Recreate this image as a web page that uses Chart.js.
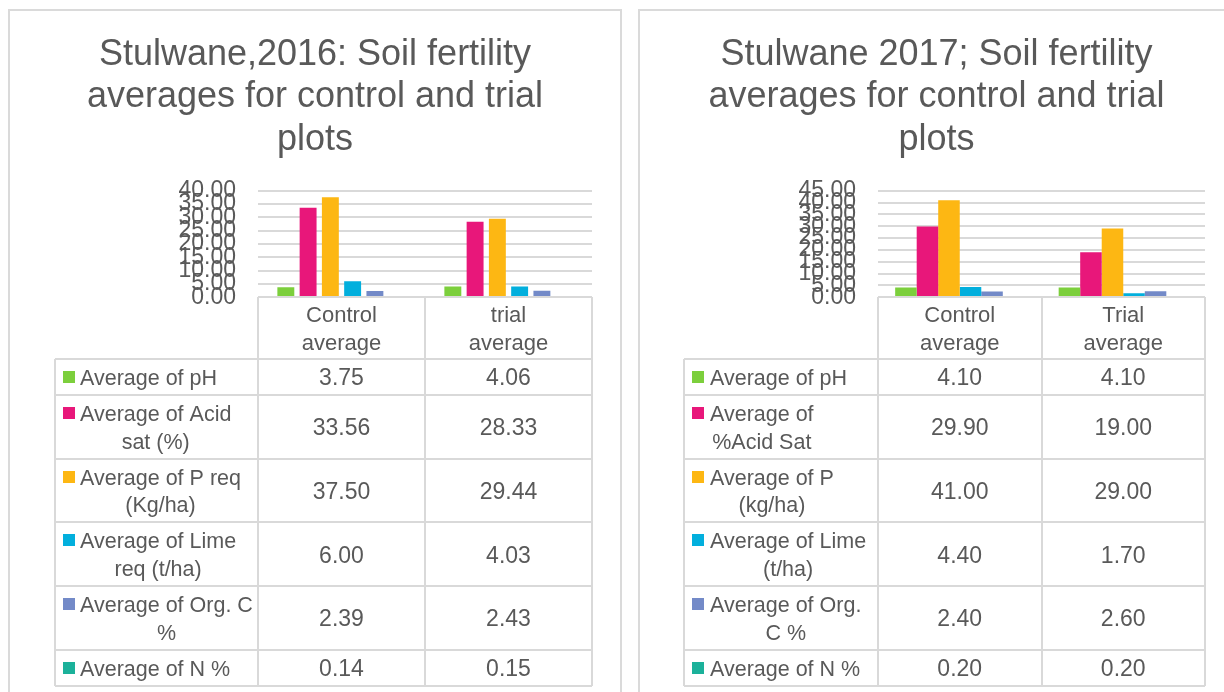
<!DOCTYPE html>
<html>
<head>
<meta charset="utf-8">
<script src="https://cdn.jsdelivr.net/npm/chart.js@4.4.1/dist/chart.umd.min.js"></script>
<style>
  html, body { margin: 0; padding: 0; background: #ffffff; overflow: hidden; width: 1224px; height: 692px; }
  .panel { position: absolute; box-sizing: border-box; border: 2px solid #DADADA; background: #fff; }
  canvas { position: absolute; }
</style>
</head>
<body>
<div class="panel" style="left:8px; top:9px; width:614px; height:720px;"></div>
<div class="panel" style="left:638px; top:9px; width:620px; height:720px;"></div>
<canvas id="c2016" width="612" height="682" style="left:9px; top:10px; width:612px; height:682px;"></canvas>
<canvas id="c2017" width="594" height="682" style="left:639px; top:10px; width:594px; height:682px;"></canvas>
<script>
// ---------- data ----------
const title2016 = ['Stulwane,2016: Soil fertility', 'averages for control and trial', 'plots'];
const title2017 = ['Stulwane 2017; Soil fertility', 'averages for control and trial', 'plots'];

const categories2016 = ['Control average', 'trial average'];
const categories2017 = ['Control average', 'Trial average'];

const series2016 = ['Average of pH', 'Average of Acid\nsat (%)', 'Average of P req\n(Kg/ha)', 'Average of Lime\nreq (t/ha)', 'Average of Org. C\n%', 'Average of N %'];
const series2017 = ['Average of pH', 'Average of\n%Acid Sat', 'Average of P\n(kg/ha)', 'Average of Lime\n(t/ha)', 'Average of Org.\nC %', 'Average of N %'];

const control2016 = [3.75, 33.56, 37.50, 6.00, 2.39, 0.14];
const trial2016   = [4.06, 28.33, 29.44, 4.03, 2.43, 0.15];
const control2017 = [4.10, 29.90, 41.00, 4.40, 2.40, 0.20];
const trial2017   = [4.10, 19.00, 29.00, 1.70, 2.60, 0.20];

const yMax2016 = 40;
const yMax2017 = 45;
const yStep = 5;

const seriesColors = ['#7CCF3C', '#E8177A', '#FDB713', '#02AFDD', '#738AC8', '#1BB19A'];

// ---------- style ----------
const FONT = "'Liberation Sans', Arial, sans-serif";
const TEXT = '#595959';
const LINE = '#D9D9D9';

Chart.defaults.font.family = FONT;
Chart.defaults.color = TEXT;

const tablePlugin = {
  id: 'dataTable',
  afterDraw(chart, args, opts) {
    const { ctx, chartArea: ca } = chart;
    const x = chart.scales.x;
    const labels = chart.data.labels;
    const n = labels.length;
    const p0 = x.getPixelForValue(0), p1 = x.getPixelForValue(1);
    const cw = p1 - p0;
    const colEdges = [];
    for (let i = 0; i <= n; i++) colEdges.push(Math.round(p0 - cw / 2 + i * cw));
    const top = Math.round(ca.bottom);
    const headerBottom = Math.round(ca.bottom + opts.headerHeight);
    const tableLeft = Math.round(colEdges[0] - opts.keyColWidth);
    const right = colEdges[n];
    const dy = opts.textShift;

    const rows = [];
    let y = headerBottom;
    chart.data.datasets.forEach(ds => {
      const lines = ds.label.split('\n');
      const h = opts.rowBase + opts.lineH * lines.length;
      rows.push({ top: y, bottom: y + h, lines, ds });
      y += h;
    });
    const tableBottom = Math.round(y);

    ctx.save();
    ctx.fillStyle = TEXT;
    ctx.textBaseline = 'middle';
    ctx.textAlign = 'center';
    ctx.font = opts.headerFont + 'px ' + FONT;
    const hc = (top + headerBottom) / 2 + dy;
    labels.forEach((lab, i) => {
      const parts = lab.split(' ');
      const cx = x.getPixelForValue(i);
      parts.forEach((pt, j) => {
        ctx.fillText(pt, cx, hc + (j - (parts.length - 1) / 2) * opts.lineH);
      });
    });

    rows.forEach(r => {
      const rc = (r.top + r.bottom) / 2;
      const firstY = rc - (r.lines.length - 1) / 2 * opts.lineH;
      ctx.fillStyle = r.ds.backgroundColor;
      ctx.fillRect(tableLeft + opts.keyOffset, Math.round(firstY - 6), 12, 12);
      ctx.fillStyle = TEXT;
      ctx.font = opts.labelFont + 'px ' + FONT;
      const blockW = Math.max(...r.lines.map(l => ctx.measureText(l).width));
      const bc = tableLeft + opts.textOffset + blockW / 2;
      ctx.textAlign = 'center';
      r.lines.forEach((l, j) => {
        ctx.fillText(l, bc, rc + dy + (j - (r.lines.length - 1) / 2) * opts.lineH);
      });
      ctx.font = opts.valueFont + 'px ' + FONT;
      r.ds.data.forEach((v, i) => {
        ctx.fillText(v.toFixed(2), x.getPixelForValue(i), rc + dy);
      });
    });

    ctx.strokeStyle = LINE;
    ctx.lineWidth = 2;
    ctx.beginPath();
    ctx.moveTo(colEdges[0], top); ctx.lineTo(right, top);
    colEdges.forEach(cx => { ctx.moveTo(cx, top); ctx.lineTo(cx, tableBottom); });
    ctx.moveTo(tableLeft, headerBottom); ctx.lineTo(tableLeft, tableBottom);
    ctx.moveTo(tableLeft, headerBottom); ctx.lineTo(right, headerBottom);
    rows.forEach(r => {
      const yy = Math.round(r.bottom);
      ctx.moveTo(tableLeft, yy); ctx.lineTo(right, yy);
    });
    ctx.stroke();
    ctx.restore();
  }
};

function makeChart(id, title, cats, names, control, trial, yMax, bar, geo) {
  const datasets = names.map((nm, i) => ({
    label: nm,
    data: [control[i], trial[i]],
    backgroundColor: seriesColors[i],
    borderWidth: 0,
    categoryPercentage: bar.cat,
    barPercentage: bar.bar
  }));
  return new Chart(document.getElementById(id), {
    type: 'bar',
    data: { labels: cats, datasets },
    options: {
      responsive: false,
      animation: false,
      layout: { padding: { top: 0, left: geo.padLeft, right: geo.padRight, bottom: geo.padBottom } },
      plugins: {
        legend: { display: false },
        tooltip: { enabled: false },
        title: {
          display: true,
          text: title,
          color: TEXT,
          font: { family: FONT, size: 36, weight: 'normal', lineHeight: 1.1806 },
          padding: { top: 23.7, bottom: 29.5 }
        },
        dataTable: geo.table
      },
      scales: {
        x: { display: false },
        y: {
          min: 0, max: yMax,
          afterFit: s => { s.width = geo.yWidth; },
          ticks: {
            stepSize: yStep,
            autoSkip: false,
            padding: 22,
            color: TEXT,
            font: { size: 23 },
            callback: v => Number(v).toFixed(2)
          },
          grid: { color: LINE, lineWidth: 2, drawTicks: false },
          border: { display: false }
        }
      }
    },
    plugins: [tablePlugin]
  });
}

makeChart('c2016', title2016, categories2016, series2016, control2016, trial2016, yMax2016,
  { cat: 0.8, bar: 0.76 },
  { padLeft: 29, padRight: 29, padBottom: 394.7, yWidth: 220,
    table: { headerHeight: 61.7, keyColWidth: 203, keyOffset: 8, textOffset: 25, rowBase: 8.3, lineH: 27.7, headerFont: 22, labelFont: 21.5, valueFont: 23, textShift: 2 } });

makeChart('c2017', title2017, categories2017, series2017, control2017, trial2017, yMax2017,
  { cat: 0.79, bar: 1.0 },
  { padLeft: 29, padRight: 28, padBottom: 394.7, yWidth: 210,
    table: { headerHeight: 61.7, keyColWidth: 194, keyOffset: 8, textOffset: 26, rowBase: 8.3, lineH: 27.7, headerFont: 22, labelFont: 21.5, valueFont: 23, textShift: 2 } });
</script>
</body>
</html>
